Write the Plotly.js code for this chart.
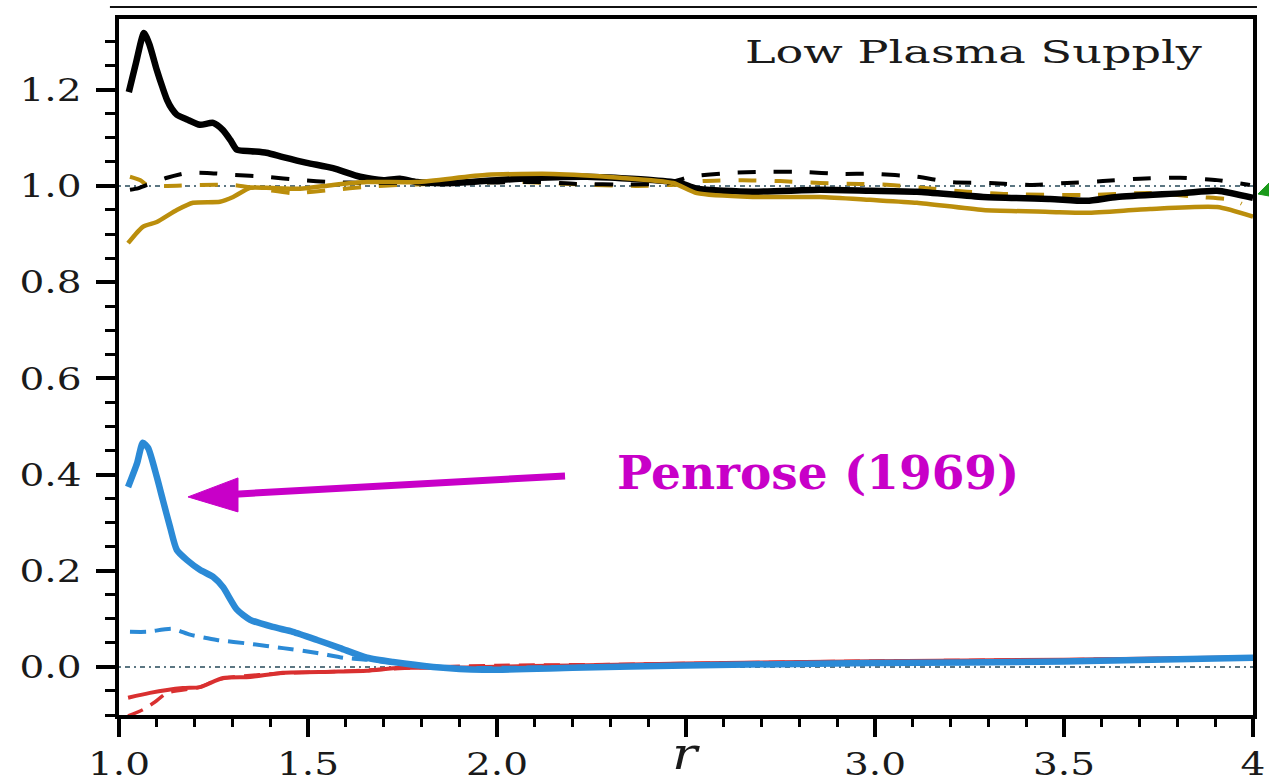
<!DOCTYPE html>
<html>
<head>
<meta charset="utf-8">
<script src="https://cdn.plot.ly/plotly-3.0.1.min.js"></script>
<style>html,body{margin:0;padding:0;background:#fff;} #chart{width:1269px;height:782px;}</style>
</head>
<body>
<div id="chart"></div>
<script>
// ---- data ----
const r_black  = [1.026, 1.045, 1.066, 1.08, 1.10, 1.115, 1.127, 1.14, 1.153, 1.18, 1.214, 1.249, 1.275, 1.295, 1.312, 1.35, 1.39, 1.434, 1.497, 1.566, 1.638, 1.70, 1.743, 1.788, 1.884, 2.06, 2.238, 2.413, 2.484, 2.529, 2.677, 2.854, 2.987, 3.111, 3.286, 3.463, 3.56, 3.64, 3.815, 3.905, 4.0];
const v_black  = [1.195, 1.256, 1.318, 1.295, 1.241, 1.205, 1.179, 1.16, 1.148, 1.138, 1.127, 1.131, 1.116, 1.095, 1.075, 1.072, 1.069, 1.06, 1.048, 1.037, 1.019, 1.012, 1.015, 1.008, 1.006, 1.015, 1.019, 1.012, 1.006, 0.994, 0.988, 0.992, 0.99, 0.988, 0.977, 0.973, 0.969, 0.977, 0.985, 0.99, 0.975];

const r_gold   = [1.024, 1.063, 1.10, 1.153, 1.196, 1.267, 1.302, 1.347, 1.39, 1.479, 1.566, 1.656, 1.788, 1.974, 2.148, 2.325, 2.466, 2.529, 2.677, 2.854, 2.987, 3.111, 3.286, 3.463, 3.56, 3.728, 3.905, 4.0];
const v_gold   = [0.881, 0.915, 0.925, 0.95, 0.965, 0.967, 0.977, 0.996, 0.996, 0.994, 1.002, 1.008, 1.008, 1.023, 1.025, 1.017, 1.006, 0.985, 0.977, 0.977, 0.971, 0.965, 0.95, 0.946, 0.944, 0.952, 0.956, 0.936];

const r_blackd = [1.029, 1.05, 1.074, 1.127, 1.18, 1.233, 1.302, 1.39, 1.479, 1.566, 1.656, 1.743, 1.9, 2.106, 2.21, 2.35, 2.45, 2.51, 2.616, 2.704, 2.81, 2.907, 2.995, 3.111, 3.198, 3.304, 3.41, 3.508, 3.603, 3.701, 3.807, 3.905, 3.992];
const v_blackd = [0.992, 0.995, 1.002, 1.017, 1.027, 1.027, 1.023, 1.019, 1.012, 1.008, 1.006, 1.006, 1.006, 1.008, 1.004, 1.003, 1.005, 1.019, 1.027, 1.029, 1.029, 1.025, 1.025, 1.019, 1.008, 1.006, 1.002, 1.006, 1.01, 1.015, 1.017, 1.012, 1.002];

const r_goldd  = [1.029, 1.056, 1.074, 1.127, 1.214, 1.302, 1.39, 1.46, 1.566, 1.656, 1.743, 1.9, 2.06, 2.254, 2.37, 2.48, 2.545, 2.65, 2.749, 2.854, 2.96, 3.04, 3.153, 3.243, 3.349, 3.55, 3.728, 3.86, 3.947, 3.97];
const v_goldd  = [1.019, 1.012, 1.002, 1.0, 1.002, 1.002, 0.992, 0.985, 0.992, 0.998, 1.002, 1.006, 1.008, 1.002, 1.0, 1.003, 1.01, 1.012, 1.01, 1.006, 1.004, 1.002, 0.994, 0.988, 0.983, 0.981, 0.985, 0.977, 0.971, 0.963];

const r_blue   = [1.024, 1.048, 1.063, 1.077, 1.10, 1.116, 1.135, 1.153, 1.18, 1.214, 1.249, 1.275, 1.312, 1.347, 1.407, 1.46, 1.524, 1.585, 1.656, 1.725, 1.831, 1.963, 2.2, 2.5, 2.987, 3.497, 4.0];
const v_blue   = [0.374, 0.424, 0.466, 0.455, 0.395, 0.347, 0.291, 0.243, 0.222, 0.202, 0.187, 0.166, 0.119, 0.098, 0.083, 0.073, 0.056, 0.039, 0.019, 0.010, 0.0, -0.006, -0.002, 0.003, 0.008, 0.011, 0.019];

const r_blued  = [1.029, 1.074, 1.143, 1.188, 1.259, 1.347, 1.434, 1.524, 1.593, 1.656, 1.75, 1.9, 2.5, 3.0, 3.5, 4.0];
const v_blued  = [0.073, 0.073, 0.079, 0.067, 0.056, 0.048, 0.039, 0.029, 0.019, 0.015, 0.006, -0.002, 0.004, 0.009, 0.012, 0.019];

const r_red    = [1.024, 1.082, 1.169, 1.214, 1.275, 1.347, 1.434, 1.566, 1.656, 1.743, 1.876, 1.963, 2.2, 2.5, 3.0, 3.5, 4.0];
const v_red    = [-0.064, -0.054, -0.044, -0.042, -0.023, -0.021, -0.012, -0.010, -0.008, -0.002, -0.002, 0.0, 0.003, 0.007, 0.012, 0.015, 0.02];

const r_redd   = [1.024, 1.063, 1.095, 1.127, 1.214, 1.259, 1.302, 1.434, 1.6, 1.8, 2.0, 2.3, 2.6, 3.0, 3.5, 4.0];
const v_redd   = [-0.102, -0.089, -0.073, -0.054, -0.042, -0.027, -0.021, -0.013, -0.009, -0.001, 0.003, 0.005, 0.008, 0.012, 0.015, 0.02];

const xTickVals = [1.0, 1.5, 2.0, 2.5, 3.0, 3.5, 4.0];
const xTickText = ['1.0', '1.5', '2.0', '', '3.0', '3.5', '4'];
const yTickVals = [0.0, 0.2, 0.4, 0.6, 0.8, 1.0, 1.2];
const yTickText = ['0.0', '0.2', '0.4', '0.6', '0.8', '1.0', '1.2'];

const panelLabel = 'Low Plasma Supply';
const calloutLabel = 'Penrose (1969)';
const xTitle = 'r';

// ---- styling ----
const C_BLACK = '#000000', C_GOLD = '#bb8e0c', C_BLUE = '#2b8ad6', C_RED = '#d93030', C_MAG = '#c800c8';
const SERIF = '"DejaVu Serif", "Liberation Serif", serif';
const DASH = '18px,18px';
const DASH2 = '16px,9px';

function tr(x, y, color, width, dash) {
  return {x: x, y: y, type: 'scatter', mode: 'lines', hoverinfo: 'skip', showlegend: false,
          line: {color: color, width: width, dash: dash || 'solid', shape: 'spline', smoothing: 0.6}};
}

const data = [
  tr(r_goldd, v_goldd, C_GOLD, 4, DASH),
  tr(r_blackd, v_blackd, C_BLACK, 4, DASH),
  tr(r_black, v_black, C_BLACK, 6.5),
  tr(r_gold, v_gold, C_GOLD, 4.5),
  tr(r_redd, v_redd, C_RED, 3.5, DASH2),
  tr(r_red, v_red, C_RED, 4),
  tr(r_blued, v_blued, C_BLUE, 4, DASH2),
  tr(r_blue, v_blue, C_BLUE, 6.5)
];

const refLine = {color: '#5b7682', width: 2, dash: '2px,4px,5px,4px'};

const layout = {
  width: 1269, height: 782,
  margin: {l: 119, r: 16, t: 19, b: 67},
  paper_bgcolor: '#ffffff', plot_bgcolor: '#ffffff',
  showlegend: false,
  font: {family: SERIF, color: '#1a1a1a'},
  xaxis: {
    range: [1.0, 4.0], showgrid: false, zeroline: false,
    showline: true, linecolor: '#000', linewidth: 4, mirror: true,
    tickmode: 'array', tickvals: xTickVals, ticktext: xTickText,
    ticks: 'outside', ticklen: 18, tickwidth: 4, tickcolor: '#000',
    ticklabelstandoff: 0,
    tickfont: {family: SERIF, size: 32, color: '#1a1a1a'},
    minor: {dtick: 0.1, tick0: 1.0, ticks: 'outside', ticklen: 8, tickwidth: 3, tickcolor: '#000', showgrid: false}
  },
  yaxis: {
    range: [-0.1, 1.347], showgrid: false, zeroline: false,
    showline: true, linecolor: '#000', linewidth: 4, mirror: true,
    tickmode: 'array', tickvals: yTickVals, ticktext: yTickText,
    ticks: 'outside', ticklen: 19, tickwidth: 4, tickcolor: '#000',
    ticklabelstandoff: 8,
    tickfont: {family: SERIF, size: 32, color: '#1a1a1a'},
    minor: {dtick: 0.05, tick0: 0, ticks: 'outside', ticklen: 10, tickwidth: 3, tickcolor: '#000', showgrid: false}
  },
  shapes: [
    {type: 'line', xref: 'paper', yref: 'y', x0: 0, x1: 1, y0: 1.0, y1: 1.0, line: refLine, layer: 'below'},
    {type: 'line', xref: 'paper', yref: 'y', x0: 0, x1: 1, y0: 0.0, y1: 0.0, line: refLine, layer: 'below'},
    {type: 'line', xref: 'paper', yref: 'paper', x0: -0.008, x1: 1.0035, y0: 1.0172, y1: 1.0172, line: {color: '#111', width: 2}},
    {type: 'line', xref: 'x', yref: 'y', x0: 1.295, y0: 0.3586, x1: 2.18, y1: 0.3971, line: {color: C_MAG, width: 7}},
    {type: 'path', xref: 'x', yref: 'y', path: 'M 1.1825,0.3534 L 1.3148,0.3929 L 1.3148,0.3222 Z', fillcolor: C_MAG, line: {color: C_MAG, width: 1}},
    {type: 'path', xref: 'paper', yref: 'paper', path: 'M 1.0044,0.7486 L 1.0141,0.7644 L 1.0141,0.7457 Z', fillcolor: '#1a9a1a', line: {color: '#1a9a1a', width: 1}}
  ],
  annotations: [
    {text: panelLabel, xref: 'paper', yref: 'paper', x: 0.7535, y: 0.953, xanchor: 'center', yanchor: 'middle', showarrow: false,
     font: {family: SERIF, size: 32, color: '#1a1a1a'}},
    {text: calloutLabel, xref: 'x', yref: 'y', x: 2.312, y: 0.405, xanchor: 'left', yanchor: 'middle', showarrow: false,
     font: {family: SERIF, size: 47, color: C_MAG, weight: 700}},
    {text: xTitle, xref: 'x', yref: 'paper', x: 2.5, y: -0.055, xanchor: 'center', yanchor: 'middle', showarrow: false,
     font: {family: SERIF, size: 44, color: '#1a1a1a', style: 'italic'}}
  ]
};

// The reference figure's original texts are horizontally stretched; widen glyphs to match.
function stretchText(el, factor, target) {
  const w = el.getComputedTextLength();
  if (!w) return;
  el.setAttribute('textLength', String(target || w * factor));
  el.setAttribute('lengthAdjust', 'spacingAndGlyphs');
}

Plotly.newPlot('chart', data, layout, {staticPlot: true, displayModeBar: false}).then(function (gd) {
  gd.querySelectorAll('.xtick text, .ytick text').forEach(function (t) { stretchText(t, 1.22); });
  gd.querySelectorAll('.annotation-text').forEach(function (t) {
    if (t.textContent === panelLabel) stretchText(t, 1, 457);
    if (t.textContent === xTitle) stretchText(t, 1.2);
  });
});
</script>
</body>
</html>
